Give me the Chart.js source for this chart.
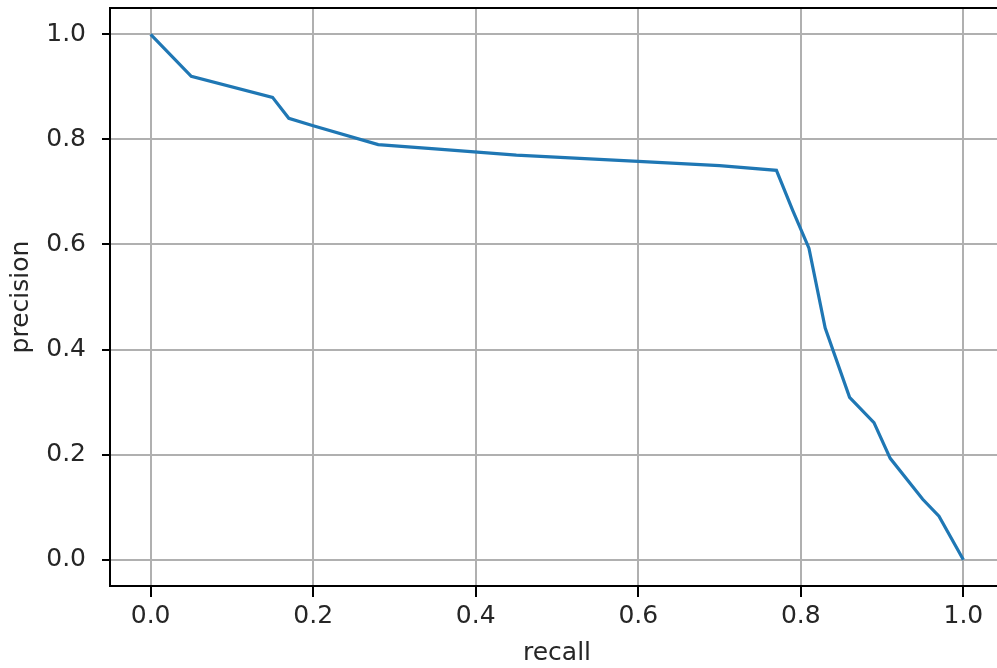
<!DOCTYPE html>
<html>
<head>
<meta charset="utf-8">
<script src="https://cdn.jsdelivr.net/npm/chart.js@4/dist/chart.umd.min.js"></script>
<style>
  html, body { margin: 0; padding: 0; background: #fff; overflow: hidden; }
  #wrap { width: 997px; height: 668px; overflow: hidden; }
  canvas { display: block; }
</style>
</head>
<body>
<div id="wrap"><canvas id="prChart" width="1004" height="668"></canvas></div>
<script>
// precision-recall curve, values
const recall = [0.0, 0.05, 0.15, 0.17, 0.2, 0.28, 0.35, 0.45, 0.6, 0.7, 0.77, 0.79, 0.81, 0.83, 0.86, 0.89, 0.91, 0.95, 0.97, 1.0];
const precision = [1.0, 0.92, 0.88, 0.84, 0.826, 0.79, 0.782, 0.77, 0.758, 0.75, 0.741, 0.665, 0.593, 0.441, 0.309, 0.261, 0.193, 0.115, 0.083, 0.0];
const xTicks = [0.0, 0.2, 0.4, 0.6, 0.8, 1.0];
const yTicks = [0.0, 0.2, 0.4, 0.6, 0.8, 1.0];

const font = () => ({ family: 'DejaVu Sans', size: 25 });
const TEXT = '#262626';

// top spine (chart.js only draws the axis side borders)
const topSpine = {
    id: 'topSpine',
    afterDraw(chart) {
        const { ctx, chartArea } = chart;
        ctx.save();
        ctx.strokeStyle = '#000';
        ctx.lineWidth = 2;
        ctx.beginPath();
        ctx.moveTo(chartArea.left - 1, chartArea.top);
        ctx.lineTo(chartArea.right + 1, chartArea.top);
        ctx.stroke();
        ctx.restore();
    }
};

const points = recall.map((r, i) => ({ x: r, y: precision[i] }));

new Chart(document.getElementById('prChart').getContext('2d'), {
    type: 'scatter',
    data: {
        datasets: [{
            data: points,
            showLine: true,
            borderColor: '#1f77b4',
            borderWidth: 3.2,
            pointRadius: 0,
            tension: 0,
        }],
    },
    options: {
        responsive: false,
        animation: false,
        devicePixelRatio: 1,
        layout: { autoPadding: false, padding: { top: 8, left: 0, right: 0, bottom: 0 } },
        plugins: { legend: { display: false }, tooltip: { enabled: false } },
        scales: {
            x: {
                type: 'linear',
                min: -0.05,
                max: 1.05,
                afterBuildTicks: scale => { scale.ticks = xTicks.map(v => ({ value: v })); },
                afterFit: scale => {
                    scale.height = 82;
                    scale.paddingLeft = 0;
                    scale.paddingRight = 0;
                },
                ticks: {
                    font: font(),
                    color: TEXT,
                    padding: 4,
                    maxRotation: 0,
                    callback: v => Number(v).toFixed(1),
                },
                grid: { color: '#b0b0b0', lineWidth: 2, tickColor: '#000', tickLength: 11, tickWidth: 2 },
                border: { color: '#000', width: 2 },
                title: { display: true, text: 'recall', font: font(), color: TEXT, padding: { top: 0, bottom: 0 } },
            },
            y: {
                type: 'linear',
                min: -0.05,
                max: 1.05,
                afterBuildTicks: scale => { scale.ticks = yTicks.map(v => ({ value: v })); },
                afterFit: scale => {
                    scale.width = 110;
                    scale.paddingTop = 0;
                    scale.paddingBottom = 0;
                },
                ticks: {
                    font: font(),
                    color: TEXT,
                    padding: 16,
                    callback: v => Number(v).toFixed(1),
                },
                grid: { color: '#b0b0b0', lineWidth: 2, tickColor: '#000', tickLength: 8, tickWidth: 2 },
                border: { color: '#000', width: 2 },
                title: { display: true, text: 'precision', font: font(), color: TEXT, padding: { top: 6, bottom: 0 } },
            },
        },
    },
    plugins: [topSpine],
});
</script>
</body>
</html>
